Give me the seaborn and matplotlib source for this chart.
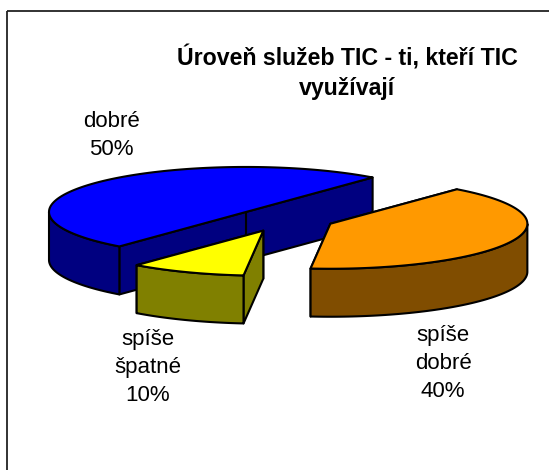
import matplotlib.pyplot as plt
import numpy as np
import seaborn as sns
from matplotlib.patches import Polygon, Rectangle

title = "Úroveň služeb TIC - ti, kteří TIC\nvyužívají"
labels = ["dobré", "spíše\ndobré", "spíše\nšpatné"]
values = [50, 40.49, 9.51]  # percent labels below are rounded
top_colors = ["#0000FF", "#FF9900", "#FFFF00"]
side_colors = ["#000080", "#804D00", "#808000"]

start = 50  # degrees on the ellipse, slices go clockwise from the first one
rx, ry, depth = 197, 45, 48
cx, cy = 284.3, 219.3
explode = [50, 50, 54]
label_pos = [(111.5, 135.5), (443, 363.5), (147.5, 367.5)]

sns.set_theme(style="white")
plt.rcParams["font.family"] = ["Liberation Sans", "DejaVu Sans"]

fig = plt.figure(figsize=(5.49, 4.70), dpi=100)
ax = fig.add_axes([0, 0, 1, 1])
ax.set_xlim(0, 549)
ax.set_ylim(470, 0)
ax.axis("off")

ax.add_patch(Rectangle((7, 11), 560, 500, fill=False, ec="#222222", lw=1.3))


def rim(x0, y0, t):
    t = np.radians(t)
    return np.column_stack([x0 + rx * np.cos(t), y0 - ry * np.sin(t)])


def down(pts):
    return pts + [0, depth]


def poly(pts, color, z):
    ax.add_patch(Polygon(pts, closed=True, fc=color, ec="black", lw=1.5, joinstyle="round", zorder=z))


# first slice goes up and over, the other two run clockwise below start
spans = [
    (start, start + values[0] * 3.6),
    (start - values[1] * 3.6, start),
    (start - (values[1] + values[2]) * 3.6, start - values[1] * 3.6),
]

for i, (lo, hi) in enumerate(spans):
    z = i * 10
    mid = np.radians((lo + hi) / 2)
    x0 = cx + explode[i] * np.cos(mid)
    y0 = cy - explode[i] * ry / rx * np.sin(mid)
    apex = np.array([[x0, y0]])
    # cut faces
    for t in (lo, hi):
        p = rim(x0, y0, np.array([t]))
        poly(np.vstack([apex, p, down(p), down(apex)]), side_colors[i], z)
    # outer wall, only the part facing the viewer
    ts = np.linspace(lo, hi, 120)
    ts = ts[np.sin(np.radians(ts)) <= 0]
    edge = rim(x0, y0, ts)
    poly(np.vstack([edge, down(edge)[::-1]]), side_colors[i], z + 1)
    # top
    poly(np.vstack([apex, rim(x0, y0, np.linspace(lo, hi, 120))]), top_colors[i], z + 2)

ax.text(347, 72.5, title, ha="center", va="center", fontsize=16.7, fontweight="bold", color="black", linespacing=1.35, zorder=50)
for lab, v, (x, y) in zip(labels, values, label_pos):
    ax.text(x, y, f"{lab}\n{v:.0f}%", ha="center", va="center", fontsize=16, color="black", linespacing=1.42, zorder=50)

fig.savefig("out.png", dpi=100)
